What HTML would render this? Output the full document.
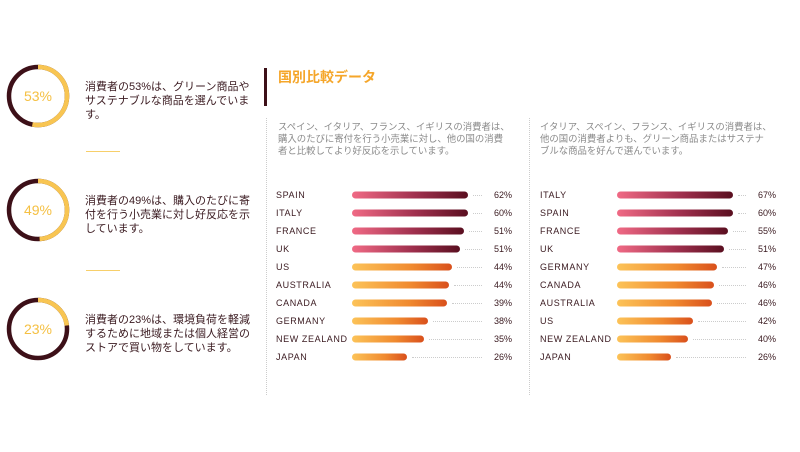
<!DOCTYPE html>
<html><head><meta charset="utf-8"><style>
body{margin:0;width:800px;height:452px;background:#fff;position:relative;overflow:hidden;font-family:"Liberation Sans","Noto Sans CJK JP",sans-serif}
.a{position:absolute}
.t{font-size:11px;line-height:14px;color:#3a1a20;white-space:nowrap}
.sep{position:absolute;left:86px;width:34px;height:1px;background:#f7cf6a}
.d{font-size:9.4px;line-height:12px;color:#8a8a8a;white-space:nowrap}
.lb{position:absolute;font-size:9px;letter-spacing:0.6px;color:#3a1a20;transform:translateY(-50%)}
.bar{position:absolute;height:7px;border-radius:4px;transform:translateY(-50%)}
.r{background:linear-gradient(90deg,#f06a85,#a0304e 55%,#5a0f20)}
.o{background:linear-gradient(90deg,#fcc358,#f08a30 60%,#d9501c)}
.dot{position:absolute;border-top:1px dotted #ccc;height:0}
.pc{position:absolute;font-size:9px;color:#3a1a20;transform:translateY(-50%);text-align:right;width:30px}
.vl{position:absolute;top:118px;height:277px;border-left:1px dotted #ccc}
</style></head><body>
<svg class="a" style="left:0;top:0" width="80" height="452">
<g fill="none" stroke-width="4.5">
<circle cx="38" cy="96" r="29" stroke="#3d1018"/>
<circle cx="38" cy="96" r="29" stroke="#f8c552" stroke-dasharray="96.6 200" transform="rotate(-90 38 96)"/>
<circle cx="38" cy="210" r="29" stroke="#3d1018"/>
<circle cx="38" cy="210" r="29" stroke="#f8c552" stroke-dasharray="89.3 200" transform="rotate(-90 38 210)"/>
<circle cx="38" cy="329" r="29" stroke="#3d1018"/>
<circle cx="38" cy="329" r="29" stroke="#f8c552" stroke-dasharray="41.9 200" transform="rotate(-90 38 329)"/>
</g>
<g font-family="Liberation Sans,sans-serif" font-size="14" fill="#f5c043" text-anchor="middle">
<text x="38" y="101">53%</text><text x="38" y="215">49%</text><text x="38" y="334">23%</text></g>
</svg>
<div class="a t" style="left:85px;top:80px">消費者の53%は、グリーン商品や<br>サステナブルな商品を選んでいま<br>す。</div>
<div class="sep" style="top:151px"></div>
<div class="a t" style="left:85px;top:194px">消費者の49%は、購入のたびに寄<br>付を行う小売業に対し好反応を示<br>しています。</div>
<div class="sep" style="top:270px"></div>
<div class="a t" style="left:85px;top:313px">消費者の23%は、環境負荷を軽減<br>するために地域または個人経営の<br>ストアで買い物をしています。</div>
<div class="a" style="left:264px;top:68px;width:3px;height:38px;background:#3d1018"></div>
<div class="a" style="left:278px;top:67px;font-size:14px;font-weight:bold;color:#f5a62a">国別比較データ</div>
<div class="vl" style="left:266px"></div>
<div class="vl" style="left:529px"></div>
<div class="a d" style="left:278px;top:121px">スペイン、イタリア、フランス、イギリスの消費者は、<br>購入のたびに寄付を行う小売業に対し、他の国の消費<br>者と比較してより好反応を示しています。</div>
<div class="a d" style="left:540px;top:121px">イタリア、スペイン、フランス、イギリスの消費者は、<br>他の国の消費者よりも、グリーン商品またはサステナ<br>ブルな商品を好んで選んでいます。</div>
<div id="c"></div>
<script>
function panel(lx,bx,px,rows){let h='';rows.forEach((r,i)=>{const y=195+i*18;const cls=i<4?'r':'o';
h+=`<div class="lb" style="left:${lx}px;top:${y}px">${r[0]}</div><div class="bar ${cls}" style="left:${bx}px;top:${y}px;width:${r[1]-bx}px"></div><div class="dot" style="left:${r[1]+5}px;top:${y}px;width:${px-35-r[1]}px"></div><div class="pc" style="left:${px-30}px;top:${y}px">${r[2]}</div>`});return h}
document.getElementById('c').innerHTML=panel(276,352,512,[['SPAIN',468,'62%'],['ITALY',468,'60%'],['FRANCE',464,'51%'],['UK',460,'51%'],['US',452,'44%'],['AUSTRALIA',449,'44%'],['CANADA',447,'39%'],['GERMANY',428,'38%'],['NEW ZEALAND',424,'35%'],['JAPAN',407,'26%']])+panel(540,617,776,[['ITALY',733,'67%'],['SPAIN',733,'60%'],['FRANCE',728,'55%'],['UK',724,'51%'],['GERMANY',717,'47%'],['CANADA',714,'46%'],['AUSTRALIA',712,'46%'],['US',693,'42%'],['NEW ZEALAND',688,'40%'],['JAPAN',671,'26%']]);
</script>
</body></html>
